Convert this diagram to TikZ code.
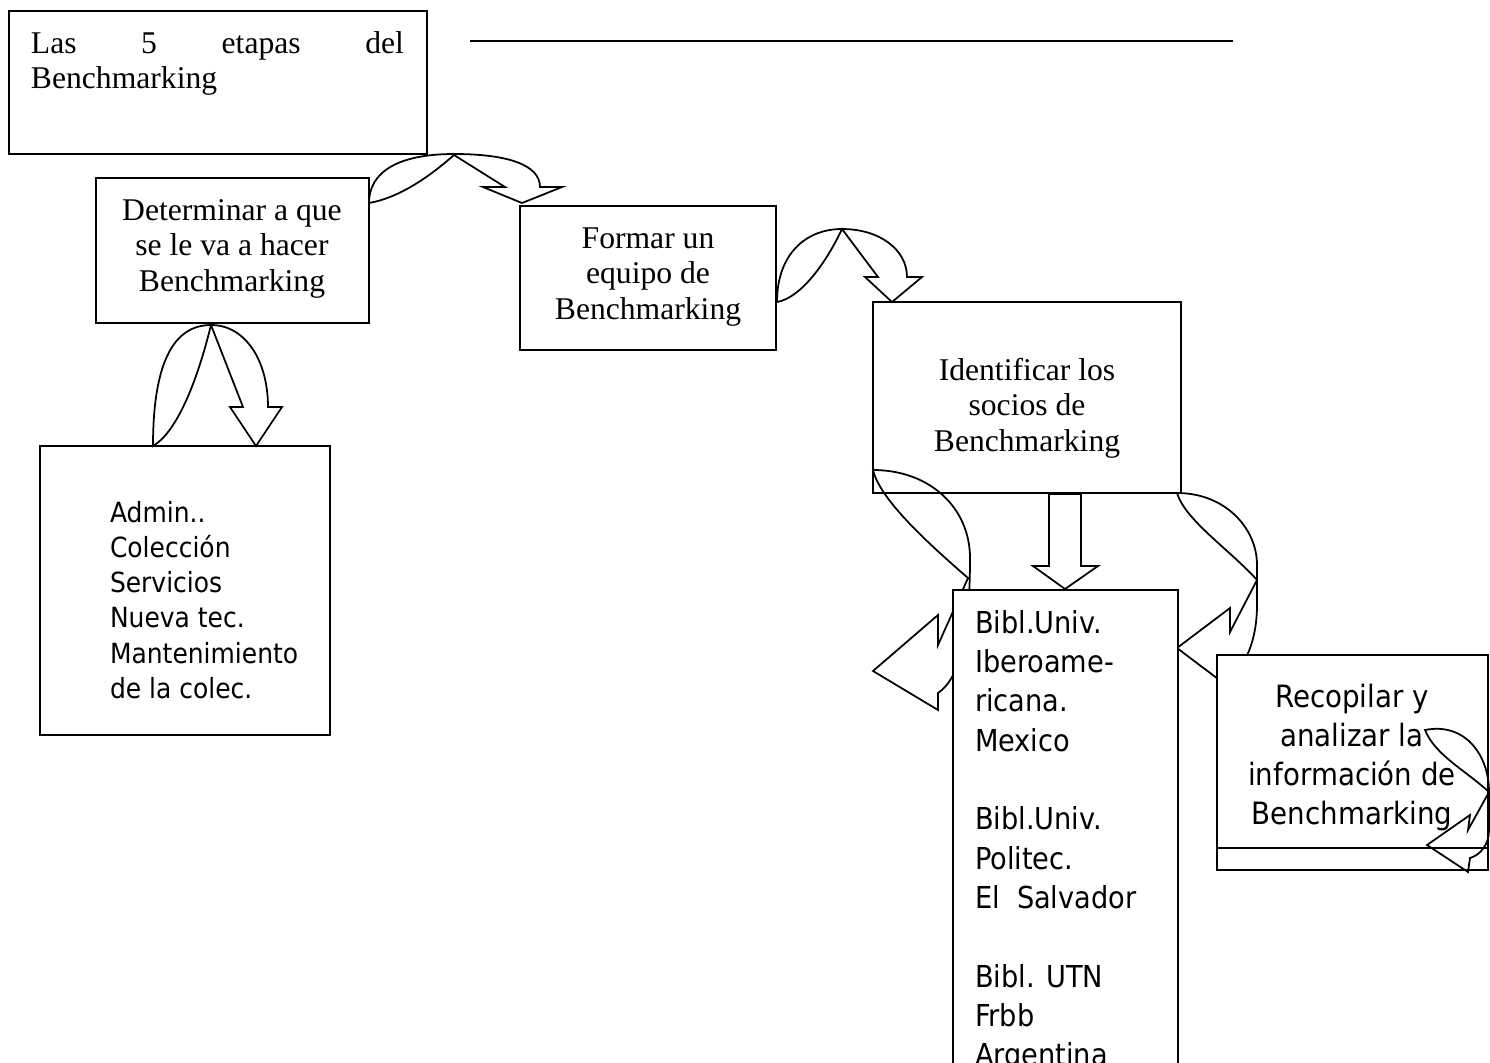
\documentclass[tikz,border=0pt]{standalone}
\usepackage{fontspec}
\setmainfont{Liberation Serif}
\newfontfamily\tahoma[FakeStretch=0.9]{DejaVu Sans}
\newlength\pxl
\setlength\pxl{0.569055pt}
\begin{document}
\begin{tikzpicture}[x=0.02cm,y=-0.02cm]
\tikzset{
  boxn/.style={draw, line width=1.4pt, fill=white, inner sep=0pt, outer sep=0pt, anchor=north west},
  arr/.style={draw, line width=1pt, line join=miter},
  txt/.style={inner sep=0pt, outer sep=0pt},
}
\useasboundingbox (0,0) rectangle (1490,1062);
\fill[white] (0,0) rectangle (1490,1062);

% boxes
\node[boxn, minimum width=418\pxl, minimum height=143\pxl] (title) at (9,11) {};
\draw[line width=1pt] (470,41) coordinate (hl1) -- (1233,41) coordinate (hl2);
\node[boxn, minimum width=273\pxl, minimum height=145\pxl] (det) at (96,178) {};
\node[boxn, minimum width=256\pxl, minimum height=144\pxl] (form) at (520,206) {};
\node[boxn, minimum width=308\pxl, minimum height=191\pxl] (ident) at (873,302) {};
\node[boxn, minimum width=290\pxl, minimum height=289\pxl] (admin) at (40,446) {};

% curved arrow A (title -> formar)
\draw[arr] (369,203) .. controls (369,172) and (398,154) .. (454,154)
  .. controls (508,154) and (540,165) .. (540,187)
  -- (562,187) -- (522,203) -- (483,187) -- (505,187) -- (454,155)
  .. controls (428,178) and (398,198) .. (369,203) -- cycle;
% curved arrow B (formar -> ident)
\draw[arr] (777,302) .. controls (777,255) and (805,229) .. (842,229)
  .. controls (880,229) and (907,250) .. (907,277)
  -- (922,277) -- (892,302) -- (865,277) -- (878,277) -- (842,229)
  .. controls (825,265) and (800,298) .. (777,302) -- cycle;
% curved arrow C (det -> admin)
\draw[arr] (153,446) .. controls (153,360) and (175,325) .. (211,325)
  .. controls (245,325) and (268,360) .. (268,407)
  -- (282,407) -- (256,446) -- (230,407) -- (243,407) -- (211,325)
  .. controls (200,370) and (180,430) .. (153,446) -- cycle;
% straight arrow G (ident -> bibl)
\draw[arr] (1049,494) -- (1049,566) -- (1033,566) -- (1065,589) -- (1098,566)
  -- (1081,566) -- (1081,494) -- cycle;
% curved arrow D (ident -> left)
\draw[arr] (873,470) .. controls (930,470) and (970,508) .. (970,558)
  .. controls (970,640) and (958,680) .. (938,693)
  -- (938,710) -- (873,671) -- (938,615) -- (938,645) -- (968,578)
  .. controls (930,545) and (880,500) .. (873,470) -- cycle;
% curved arrow E (ident -> recopilar)
\draw[arr] (1177,493) .. controls (1225,493) and (1257,528) .. (1257,565)
  -- (1257,605) .. controls (1257,632) and (1250,660) .. (1232,676)
  -- (1230,688) -- (1177,648) -- (1230,608) -- (1230,632) -- (1257,580)
  .. controls (1230,550) and (1185,520) .. (1177,493) -- cycle;

% boxes over arrows
\node[boxn, minimum width=225\pxl, minimum height=500\pxl] (bibl) at (953,590) {};
\node[boxn, minimum width=271\pxl, minimum height=215\pxl] (recop) at (1217,655) {};
\draw[line width=1.4pt] ([yshift=-193\pxl]recop.north west) coordinate (rl1) -- ([yshift=-193\pxl]recop.north east) coordinate (rl2);

% curved arrow F (inside recopilar)
\draw[arr] (1425,730) .. controls (1465,722) and (1489,755) .. (1489,792)
  -- (1489,830) .. controls (1489,845) and (1480,855) .. (1470,858)
  -- (1468,872) -- (1427,845) -- (1470,815) -- (1468,830) -- (1489,792)
  .. controls (1465,770) and (1435,755) .. (1425,730) -- cycle;

% texts
\node[txt, anchor=base west] (titleT) at (31,53)
  {\parbox[t]{373\pxl}{\fontsize{18}{20.4}\selectfont Las\hfill 5\hfill etapas\hfill del\\Benchmarking}};
\node[txt, anchor=base] (detT) at (232,220)
  {\parbox[t]{260\pxl}{\centering\fontsize{18}{20.3}\selectfont Determinar a que\\se le va a hacer\\Benchmarking}};
\node[txt, anchor=base] (formT) at (648,248)
  {\parbox[t]{250\pxl}{\centering\fontsize{18}{20.3}\selectfont Formar un\\equipo de\\Benchmarking}};
\node[txt, anchor=base] (identT) at (1027,380)
  {\parbox[t]{300\pxl}{\centering\fontsize{18}{20.3}\selectfont Identificar los\\socios de\\Benchmarking}};
\node[txt, anchor=base west] (adminT) at (110,522)
  {\parbox[t]{215\pxl}{\raggedright\tahoma\fontsize{15.8}{20.1}\selectfont Admin..\\Colección\\Servicios\\Nueva tec.\\Mantenimiento\\de la colec.}};
\node[txt, anchor=base west] (biblT) at (975,633)
  {\parbox[t]{200\pxl}{\raggedright\tahoma\fontsize{17.2}{22.4}\selectfont Bibl.Univ.\\Iberoame-\\ricana.\\Mexico\\\mbox{}\\Bibl.Univ.\\Politec.\\El~\ Salvador\\\mbox{}\\Bibl. UTN\\Frbb\\Argentina}};
\node[txt, anchor=base] (recopT) at (1352,707)
  {\parbox[t]{265\pxl}{\centering\tahoma\fontsize{17.5}{22.2}\selectfont Recopilar y\\analizar la\\información de\\Benchmarking}};
\end{tikzpicture}
\end{document}
